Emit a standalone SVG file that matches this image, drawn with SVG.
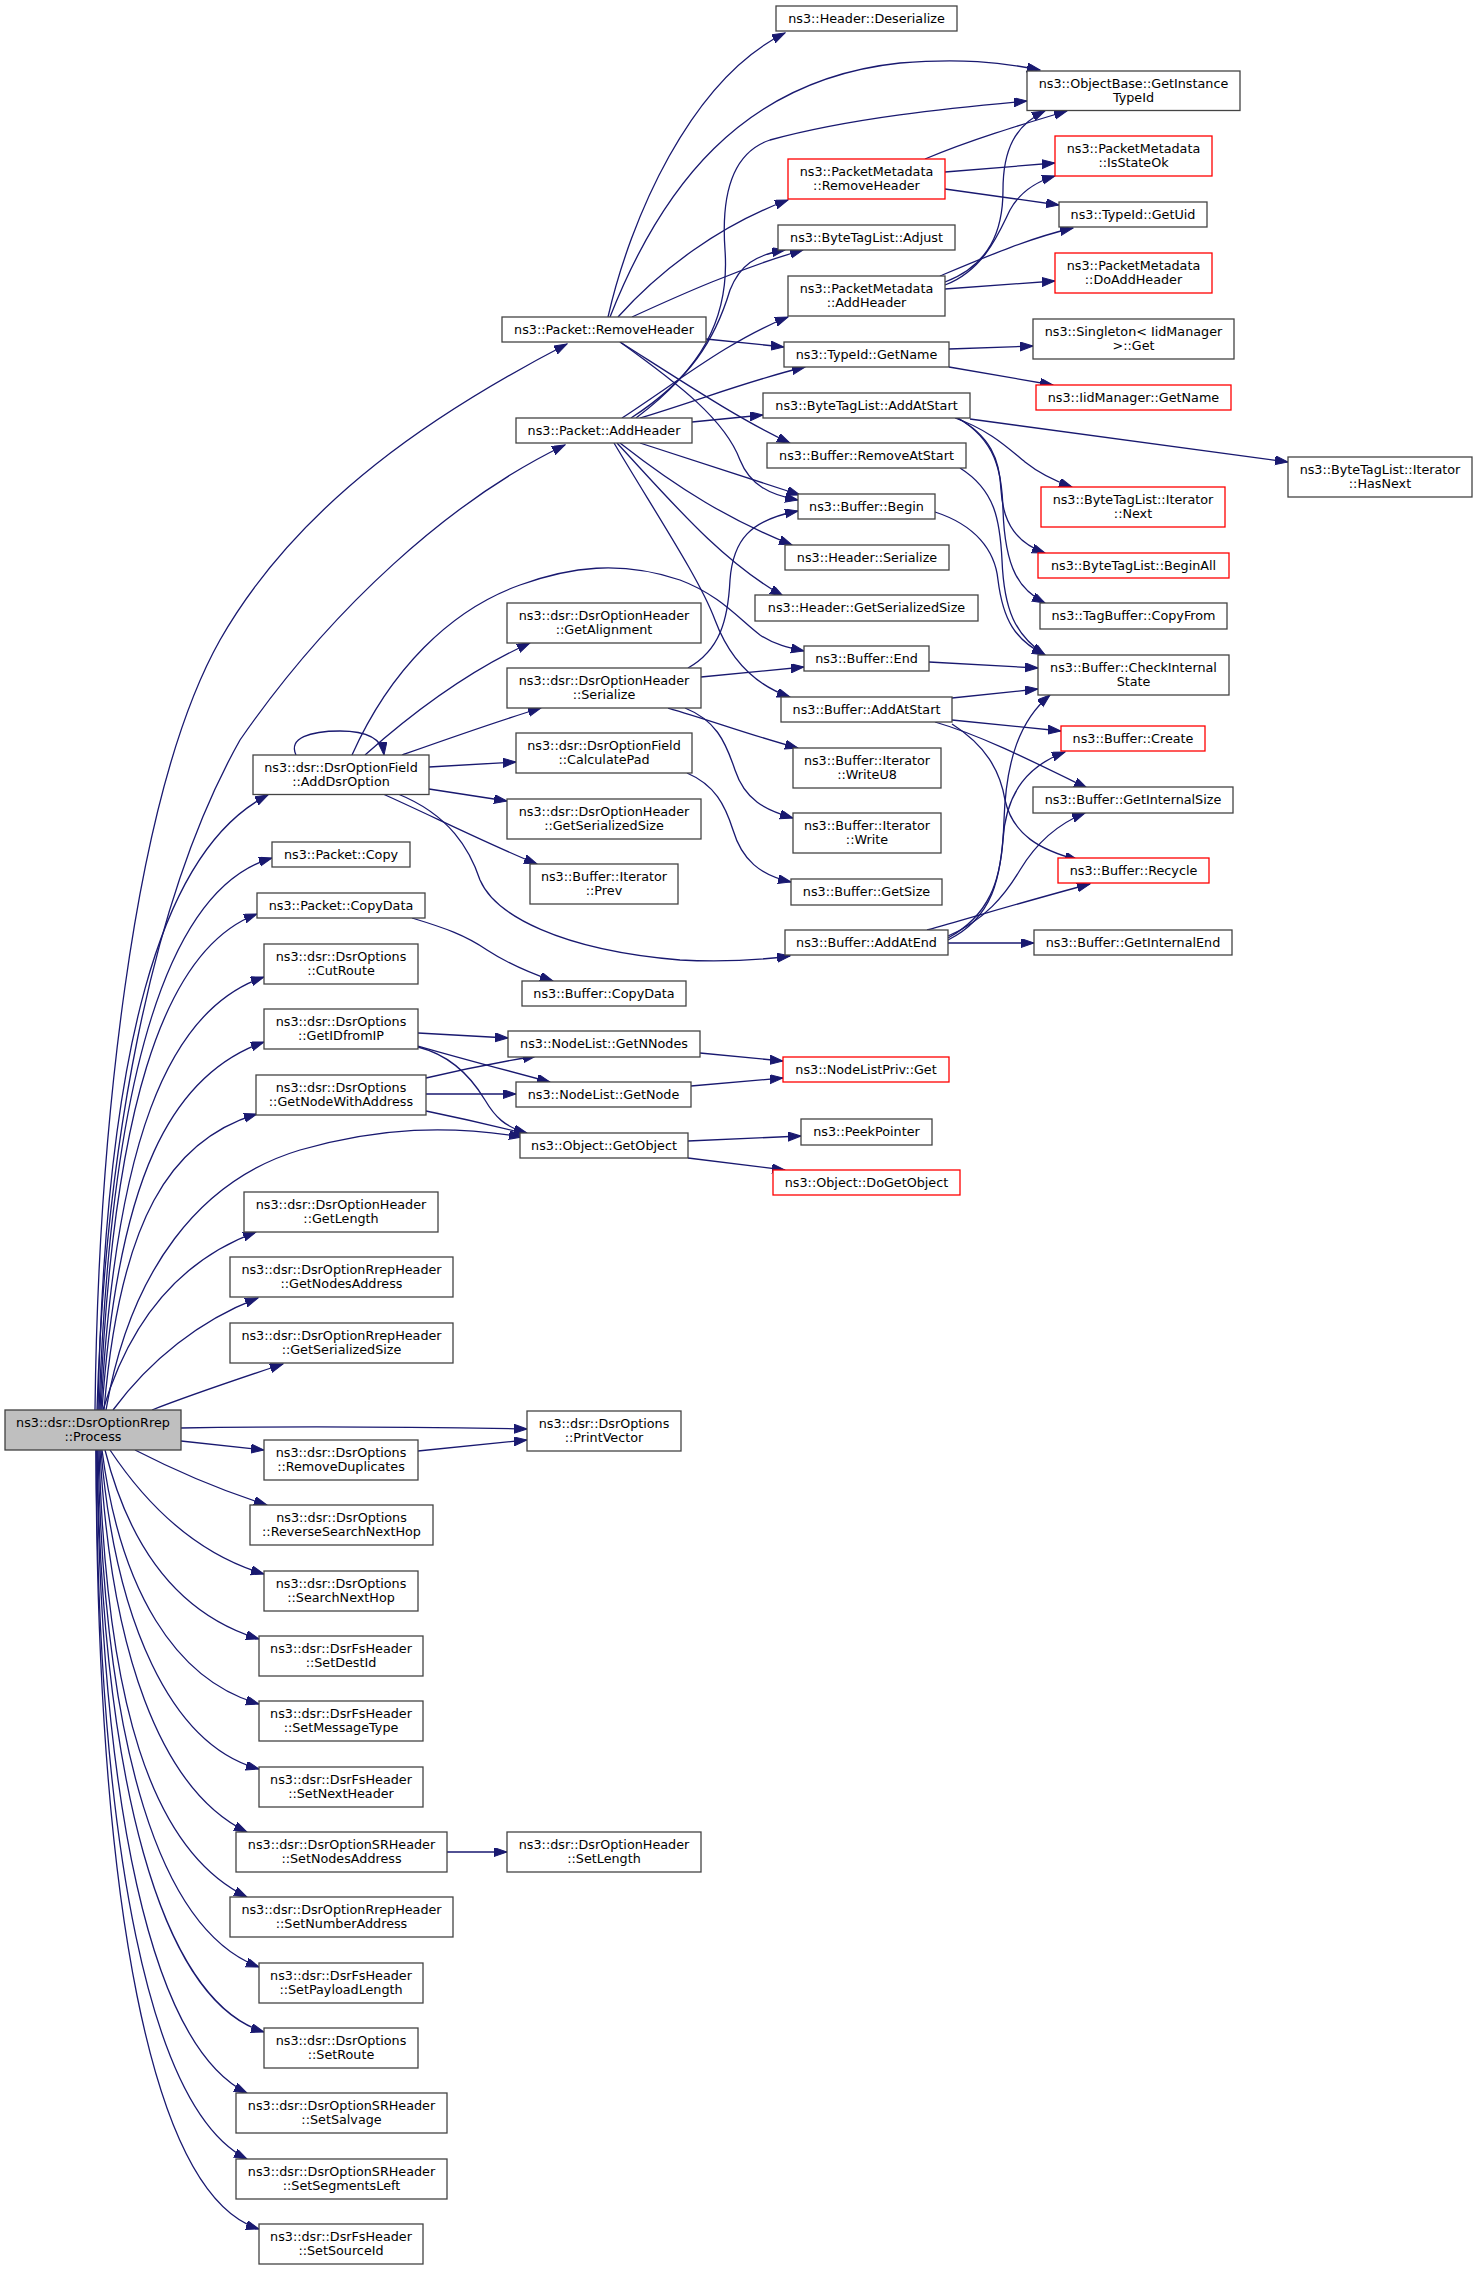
<svg xmlns="http://www.w3.org/2000/svg" width="1477" height="2269" viewBox="0 0 1477 2269">
<style>
.node rect{fill:#ffffff;stroke:#444444;stroke-width:1.3}
.node.red rect{stroke:#ff0000}
.node.root rect{fill:#bfbfbf;stroke:#404040}
.node text{font-family:"DejaVu Sans","Liberation Sans",sans-serif;font-size:12.75px;fill:#000000;text-anchor:middle}
#edges path{fill:none;stroke:#191970;stroke-width:1.3;marker-end:url(#arr)}
</style>
<defs>
<marker id="arr" markerWidth="14" markerHeight="10" refX="13" refY="4.5" orient="auto" markerUnits="userSpaceOnUse">
<path d="M0,0 L13,4.5 L0,9 z" fill="#191970" stroke="#191970" stroke-width="1"/>
</marker>
</defs>
<rect width="1477" height="2269" fill="#ffffff"/>
<g id="edges">
<!-- Process -->
<path d="M95,1410 C98,1150 130,800 220,640 C300,500 440,410 567,344"/>
<path d="M97,1410 C105,1150 150,900 240,740 C330,610 450,500 565,445"/>
<path d="M98,1410 C105,1050 160,850 268,795"/>
<path d="M99,1410 C110,1100 160,890 272,858"/>
<path d="M100,1410 C112,1120 160,950 257,914"/>
<path d="M101,1410 C115,1150 165,1010 264,977"/>
<path d="M102,1410 C118,1180 170,1075 264,1042"/>
<path d="M104,1410 C120,1220 170,1140 257,1114"/>
<path d="M106,1410 C130,1270 200,1180 300,1150 C380,1127 450,1125 522,1137"/>
<path d="M103,1410 C130,1320 180,1260 256,1232"/>
<path d="M113,1410 C150,1360 200,1320 258,1298"/>
<path d="M152,1410 C190,1395 235,1380 283,1364"/>
<path d="M181,1428 C300,1426 420,1427 527,1429"/>
<path d="M181,1441 L264,1450"/>
<path d="M135,1450 C170,1468 220,1490 267,1505"/>
<path d="M110,1450 C150,1510 200,1555 264,1574"/>
<path d="M105,1450 C130,1550 180,1615 259,1639"/>
<path d="M102,1450 C120,1590 175,1680 259,1704"/>
<path d="M101,1450 C115,1620 170,1745 259,1769"/>
<path d="M100,1450 C110,1650 160,1790 247,1832"/>
<path d="M99,1450 C106,1700 150,1850 247,1897"/>
<path d="M98,1450 C104,1750 160,1930 259,1967"/>
<path d="M97,1450 C102,1780 160,2000 264,2032"/>
<path d="M97,1450 C100,1800 150,2045 247,2093"/>
<path d="M96,1450 C98,1850 150,2110 247,2159"/>
<path d="M96,1450 C97,1900 150,2195 259,2229"/>
<path d="M418,1451 L527,1440"/>
<path d="M447,1852 L507,1852"/>
<!-- Packet::RemoveHeader -->
<path d="M608,317 C630,220 690,80 785,33"/>
<path d="M610,317 C660,190 740,80 900,63 C960,58 1000,62 1040,70"/>
<path d="M618,317 C660,270 720,225 788,200"/>
<path d="M632,317 C680,295 740,268 803,250"/>
<path d="M706,339 L784,347"/>
<path d="M620,342 C680,380 740,420 790,443"/>
<path d="M620,342 C680,385 725,420 740,460 C750,485 770,495 798,500"/>
<!-- Packet::AddHeader -->
<path d="M622,418 C680,380 730,340 788,317"/>
<path d="M631,418 C690,380 715,340 730,290 C740,265 755,255 785,250"/>
<path d="M636,418 C700,370 730,320 725,250 C720,180 740,150 770,140 C850,118 950,108 1027,101"/>
<path d="M640,418 C700,400 750,380 805,367"/>
<path d="M692,422 L763,415"/>
<path d="M640,443 L800,495"/>
<path d="M620,443 C680,490 730,520 792,545"/>
<path d="M617,443 C670,500 720,560 783,596"/>
<path d="M614,443 C660,520 700,580 715,620 C730,660 755,685 790,697"/>
<!-- PacketMetadata -->
<path d="M925,159 C970,140 1020,125 1067,111"/>
<path d="M945,172 L1055,163"/>
<path d="M945,189 L1059,205"/>
<path d="M945,282 C990,265 1003,230 1003,190 C1003,150 1015,125 1045,111"/>
<path d="M945,285 C985,270 1000,230 1010,210 C1020,192 1035,182 1055,176"/>
<path d="M940,276 C990,255 1030,238 1073,228"/>
<path d="M945,289 L1055,281"/>
<!-- TypeId::GetName -->
<path d="M949,349 L1033,346"/>
<path d="M949,367 L1053,385"/>
<!-- ByteTagList::AddAtStart -->
<path d="M970,419 L1288,462"/>
<path d="M955,418 C990,430 1010,450 1025,462 C1040,474 1055,481 1072,487"/>
<path d="M957,418 C990,435 1000,460 1001,490 C1003,525 1018,543 1045,553"/>
<path d="M958,418 C995,440 1002,470 1003,510 C1005,570 1020,590 1045,603"/>
<!-- CheckInternalState -->
<path d="M960,468 C995,490 1000,520 1002,560 C1004,610 1015,635 1045,655"/>
<path d="M935,512 C975,525 995,550 998,580 C1003,620 1015,640 1045,655"/>
<path d="M929,662 L1038,668"/>
<!-- Buffer::AddAtStart -->
<path d="M952,698 L1038,689"/>
<path d="M952,720 L1061,731"/>
<path d="M935,722 C980,735 1030,760 1087,788"/>
<path d="M952,724 C985,745 1000,770 1005,800 C1013,835 1040,850 1078,860"/>
<!-- Buffer::AddAtEnd -->
<path d="M948,943 L1034,943"/>
<path d="M927,930 C980,915 1030,900 1090,884"/>
<path d="M948,936 C985,920 1005,895 1020,870 C1035,845 1055,825 1085,813"/>
<path d="M948,938 C990,915 1000,880 1003,840 C1006,790 1030,765 1065,752"/>
<path d="M948,940 C992,918 1002,880 1004,820 C1006,760 1020,720 1050,695"/>
<!-- DsrOptionHeader::Serialize -->
<path d="M688,668 C720,650 728,620 730,580 C733,540 750,520 798,511"/>
<path d="M701,677 L804,667"/>
<path d="M668,708 C710,720 750,735 798,748"/>
<path d="M685,708 C715,720 725,740 735,770 C745,800 765,810 793,818"/>
<!-- AddDsrOption -->
<path d="M352,755 C390,670 450,610 520,585 C570,567 620,560 680,580 C720,595 740,620 760,635 C775,645 790,648 804,651"/>
<path d="M296,755 C288,738 310,731 340,731 C365,731 382,738 384,755"/>
<path d="M365,755 C410,715 470,670 530,643"/>
<path d="M402,755 C450,738 495,722 541,708"/>
<path d="M429,767 L516,762"/>
<path d="M429,789 L507,801"/>
<path d="M383,794 C430,815 490,845 537,864"/>
<path d="M398,794 C450,815 470,850 480,880 C495,915 560,950 680,960 C720,962 760,960 790,956"/>
<!-- CalculatePad -->
<path d="M687,773 C715,785 725,805 733,830 C742,860 760,875 791,882"/>
<!-- Packet::CopyData -->
<path d="M412,918 C445,928 465,935 487,950 C510,965 530,973 553,981"/>
<!-- GetIDfromIP / GetNodeWithAddress -->
<path d="M418,1033 L508,1038"/>
<path d="M418,1046 C460,1058 505,1070 550,1082"/>
<path d="M418,1047 C450,1055 470,1075 485,1100 C495,1117 505,1127 527,1133"/>
<path d="M426,1078 C460,1070 500,1062 536,1056"/>
<path d="M426,1094 L516,1094"/>
<path d="M426,1111 C460,1118 495,1126 527,1134"/>
<!-- NodeList / Object -->
<path d="M700,1053 L783,1061"/>
<path d="M691,1086 L783,1078"/>
<path d="M688,1141 L801,1136"/>
<path d="M688,1158 L785,1170"/>
</g>
<g id="n_process" class="node root"><rect x="5" y="1410" width="176" height="40"/><text x="93" y="1427">ns3::dsr::DsrOptionRrep</text><text x="93" y="1440.7">::Process</text></g>
<g id="n_pRemoveHeader" class="node"><rect x="502" y="317" width="204" height="25"/><text x="604" y="333.5">ns3::Packet::RemoveHeader</text></g>
<g id="n_pAddHeader" class="node"><rect x="516" y="418" width="176" height="25"/><text x="604" y="434.5">ns3::Packet::AddHeader</text></g>
<g id="n_addDsrOption" class="node"><rect x="253" y="755" width="176" height="39.5"/><text x="341" y="772">ns3::dsr::DsrOptionField</text><text x="341" y="785.7">::AddDsrOption</text></g>
<g id="n_copy" class="node"><rect x="272" y="842" width="138" height="25"/><text x="341" y="858.5">ns3::Packet::Copy</text></g>
<g id="n_pCopyData" class="node"><rect x="257" y="893" width="168" height="25"/><text x="341" y="909.5">ns3::Packet::CopyData</text></g>
<g id="n_cutRoute" class="node"><rect x="264" y="944" width="154" height="40"/><text x="341" y="961">ns3::dsr::DsrOptions</text><text x="341" y="974.7">::CutRoute</text></g>
<g id="n_getIDfromIP" class="node"><rect x="264" y="1009" width="154" height="40"/><text x="341" y="1026">ns3::dsr::DsrOptions</text><text x="341" y="1039.7">::GetIDfromIP</text></g>
<g id="n_getNodeWithAddress" class="node"><rect x="256" y="1075" width="170" height="40"/><text x="341" y="1092">ns3::dsr::DsrOptions</text><text x="341" y="1105.7">::GetNodeWithAddress</text></g>
<g id="n_getLength" class="node"><rect x="244" y="1192" width="194" height="40"/><text x="341" y="1209">ns3::dsr::DsrOptionHeader</text><text x="341" y="1222.7">::GetLength</text></g>
<g id="n_getNodesAddress" class="node"><rect x="230" y="1257" width="223" height="40"/><text x="341.5" y="1274">ns3::dsr::DsrOptionRrepHeader</text><text x="341.5" y="1287.7">::GetNodesAddress</text></g>
<g id="n_rrepGetSerializedSize" class="node"><rect x="230" y="1323" width="223" height="40"/><text x="341.5" y="1340">ns3::dsr::DsrOptionRrepHeader</text><text x="341.5" y="1353.7">::GetSerializedSize</text></g>
<g id="n_removeDuplicates" class="node"><rect x="264" y="1440" width="154" height="40"/><text x="341" y="1457">ns3::dsr::DsrOptions</text><text x="341" y="1470.7">::RemoveDuplicates</text></g>
<g id="n_reverseSearchNextHop" class="node"><rect x="250" y="1505" width="183" height="40"/><text x="341.5" y="1522">ns3::dsr::DsrOptions</text><text x="341.5" y="1535.7">::ReverseSearchNextHop</text></g>
<g id="n_searchNextHop" class="node"><rect x="264" y="1571" width="154" height="40"/><text x="341" y="1588">ns3::dsr::DsrOptions</text><text x="341" y="1601.7">::SearchNextHop</text></g>
<g id="n_setDestId" class="node"><rect x="259" y="1636" width="164" height="40"/><text x="341" y="1653">ns3::dsr::DsrFsHeader</text><text x="341" y="1666.7">::SetDestId</text></g>
<g id="n_setMessageType" class="node"><rect x="259" y="1701" width="164" height="40"/><text x="341" y="1718">ns3::dsr::DsrFsHeader</text><text x="341" y="1731.7">::SetMessageType</text></g>
<g id="n_setNextHeader" class="node"><rect x="259" y="1767" width="164" height="40"/><text x="341" y="1784">ns3::dsr::DsrFsHeader</text><text x="341" y="1797.7">::SetNextHeader</text></g>
<g id="n_setNodesAddress" class="node"><rect x="236" y="1832" width="211" height="40"/><text x="341.5" y="1849">ns3::dsr::DsrOptionSRHeader</text><text x="341.5" y="1862.7">::SetNodesAddress</text></g>
<g id="n_setNumberAddress" class="node"><rect x="230" y="1897" width="223" height="40"/><text x="341.5" y="1914">ns3::dsr::DsrOptionRrepHeader</text><text x="341.5" y="1927.7">::SetNumberAddress</text></g>
<g id="n_setPayloadLength" class="node"><rect x="259" y="1963" width="164" height="40"/><text x="341" y="1980">ns3::dsr::DsrFsHeader</text><text x="341" y="1993.7">::SetPayloadLength</text></g>
<g id="n_setRoute" class="node"><rect x="264" y="2028" width="154" height="40"/><text x="341" y="2045">ns3::dsr::DsrOptions</text><text x="341" y="2058.7">::SetRoute</text></g>
<g id="n_setSalvage" class="node"><rect x="236" y="2093" width="211" height="40"/><text x="341.5" y="2110">ns3::dsr::DsrOptionSRHeader</text><text x="341.5" y="2123.7">::SetSalvage</text></g>
<g id="n_setSegmentsLeft" class="node"><rect x="236" y="2159" width="211" height="40"/><text x="341.5" y="2176">ns3::dsr::DsrOptionSRHeader</text><text x="341.5" y="2189.7">::SetSegmentsLeft</text></g>
<g id="n_setSourceId" class="node"><rect x="259" y="2224" width="164" height="40"/><text x="341" y="2241">ns3::dsr::DsrFsHeader</text><text x="341" y="2254.7">::SetSourceId</text></g>
<g id="n_headerDeserialize" class="node"><rect x="776" y="6" width="181" height="25"/><text x="866.5" y="22.5">ns3::Header::Deserialize</text></g>
<g id="n_pmRemoveHeader" class="node red"><rect x="788" y="159" width="157" height="40"/><text x="866.5" y="176">ns3::PacketMetadata</text><text x="866.5" y="189.7">::RemoveHeader</text></g>
<g id="n_adjust" class="node"><rect x="778" y="225" width="177" height="25"/><text x="866.5" y="241.5">ns3::ByteTagList::Adjust</text></g>
<g id="n_pmAddHeader" class="node"><rect x="788" y="276" width="157" height="40"/><text x="866.5" y="293">ns3::PacketMetadata</text><text x="866.5" y="306.7">::AddHeader</text></g>
<g id="n_typeIdGetName" class="node"><rect x="784" y="342" width="165" height="25"/><text x="866.5" y="358.5">ns3::TypeId::GetName</text></g>
<g id="n_btlAddAtStart" class="node"><rect x="763" y="393" width="207" height="25"/><text x="866.5" y="409.5">ns3::ByteTagList::AddAtStart</text></g>
<g id="n_removeAtStart" class="node"><rect x="767" y="443" width="199" height="25"/><text x="866.5" y="459.5">ns3::Buffer::RemoveAtStart</text></g>
<g id="n_begin" class="node"><rect x="798" y="494" width="137" height="25"/><text x="866.5" y="510.5">ns3::Buffer::Begin</text></g>
<g id="n_headerSerialize" class="node"><rect x="785" y="545" width="164" height="25"/><text x="867" y="561.5">ns3::Header::Serialize</text></g>
<g id="n_headerGetSerializedSize" class="node"><rect x="755" y="595" width="223" height="26"/><text x="866.5" y="612">ns3::Header::GetSerializedSize</text></g>
<g id="n_getAlignment" class="node"><rect x="507" y="603" width="194" height="40"/><text x="604" y="620">ns3::dsr::DsrOptionHeader</text><text x="604" y="633.7">::GetAlignment</text></g>
<g id="n_end" class="node"><rect x="804" y="646" width="125" height="25"/><text x="866.5" y="662.5">ns3::Buffer::End</text></g>
<g id="n_dohSerialize" class="node"><rect x="507" y="668" width="194" height="40"/><text x="604" y="685">ns3::dsr::DsrOptionHeader</text><text x="604" y="698.7">::Serialize</text></g>
<g id="n_bufAddAtStart" class="node"><rect x="781" y="697" width="171" height="25"/><text x="866.5" y="713.5">ns3::Buffer::AddAtStart</text></g>
<g id="n_calculatePad" class="node"><rect x="516" y="733" width="176" height="40"/><text x="604" y="750">ns3::dsr::DsrOptionField</text><text x="604" y="763.7">::CalculatePad</text></g>
<g id="n_writeU8" class="node"><rect x="793" y="748" width="148" height="40"/><text x="867" y="765">ns3::Buffer::Iterator</text><text x="867" y="778.7">::WriteU8</text></g>
<g id="n_dohGetSerializedSize" class="node"><rect x="507" y="799" width="194" height="40"/><text x="604" y="816">ns3::dsr::DsrOptionHeader</text><text x="604" y="829.7">::GetSerializedSize</text></g>
<g id="n_write" class="node"><rect x="793" y="813" width="148" height="40"/><text x="867" y="830">ns3::Buffer::Iterator</text><text x="867" y="843.7">::Write</text></g>
<g id="n_prev" class="node"><rect x="530" y="864" width="148" height="40"/><text x="604" y="881">ns3::Buffer::Iterator</text><text x="604" y="894.7">::Prev</text></g>
<g id="n_getSize" class="node"><rect x="791" y="879" width="151" height="26"/><text x="866.5" y="896">ns3::Buffer::GetSize</text></g>
<g id="n_addAtEnd" class="node"><rect x="785" y="930" width="163" height="25"/><text x="866.5" y="946.5">ns3::Buffer::AddAtEnd</text></g>
<g id="n_bufCopyData" class="node"><rect x="522" y="981" width="164" height="25"/><text x="604" y="997.5">ns3::Buffer::CopyData</text></g>
<g id="n_getNNodes" class="node"><rect x="508" y="1031" width="192" height="26"/><text x="604" y="1048">ns3::NodeList::GetNNodes</text></g>
<g id="n_getNode" class="node"><rect x="516" y="1082" width="175" height="25"/><text x="603.5" y="1098.5">ns3::NodeList::GetNode</text></g>
<g id="n_getObject" class="node"><rect x="520" y="1133" width="168" height="25"/><text x="604" y="1149.5">ns3::Object::GetObject</text></g>
<g id="n_printVector" class="node"><rect x="527" y="1411" width="154" height="40"/><text x="604" y="1428">ns3::dsr::DsrOptions</text><text x="604" y="1441.7">::PrintVector</text></g>
<g id="n_setLength" class="node"><rect x="507" y="1832" width="194" height="40"/><text x="604" y="1849">ns3::dsr::DsrOptionHeader</text><text x="604" y="1862.7">::SetLength</text></g>
<g id="n_nodeListPrivGet" class="node red"><rect x="783" y="1057" width="166" height="25"/><text x="866" y="1073.5">ns3::NodeListPriv::Get</text></g>
<g id="n_peekPointer" class="node"><rect x="801" y="1119" width="131" height="26"/><text x="866.5" y="1136">ns3::PeekPointer</text></g>
<g id="n_doGetObject" class="node red"><rect x="773" y="1170" width="187" height="25"/><text x="866.5" y="1186.5">ns3::Object::DoGetObject</text></g>
<g id="n_getInstanceTypeId" class="node"><rect x="1027" y="71" width="213" height="39.5"/><text x="1133.5" y="88">ns3::ObjectBase::GetInstance</text><text x="1133.5" y="101.7">TypeId</text></g>
<g id="n_isStateOk" class="node red"><rect x="1055" y="136" width="157" height="40"/><text x="1133.5" y="153">ns3::PacketMetadata</text><text x="1133.5" y="166.7">::IsStateOk</text></g>
<g id="n_getUid" class="node"><rect x="1059" y="202" width="148" height="25"/><text x="1133" y="218.5">ns3::TypeId::GetUid</text></g>
<g id="n_doAddHeader" class="node red"><rect x="1055" y="253" width="157" height="40"/><text x="1133.5" y="270">ns3::PacketMetadata</text><text x="1133.5" y="283.7">::DoAddHeader</text></g>
<g id="n_singletonGet" class="node"><rect x="1033" y="319" width="201" height="40"/><text x="1133.5" y="336">ns3::Singleton&lt; IidManager</text><text x="1133.5" y="349.7">&gt;::Get</text></g>
<g id="n_iidManagerGetName" class="node red"><rect x="1036" y="385" width="195" height="25"/><text x="1133.5" y="401.5">ns3::IidManager::GetName</text></g>
<g id="n_iterNext" class="node red"><rect x="1041" y="487" width="184" height="40"/><text x="1133" y="504">ns3::ByteTagList::Iterator</text><text x="1133" y="517.7">::Next</text></g>
<g id="n_beginAll" class="node red"><rect x="1038" y="553" width="191" height="25"/><text x="1133.5" y="569.5">ns3::ByteTagList::BeginAll</text></g>
<g id="n_copyFrom" class="node"><rect x="1040" y="603" width="187" height="26"/><text x="1133.5" y="620">ns3::TagBuffer::CopyFrom</text></g>
<g id="n_checkInternalState" class="node"><rect x="1038" y="655" width="191" height="40"/><text x="1133.5" y="672">ns3::Buffer::CheckInternal</text><text x="1133.5" y="685.7">State</text></g>
<g id="n_create" class="node red"><rect x="1061" y="726" width="144" height="25"/><text x="1133" y="742.5">ns3::Buffer::Create</text></g>
<g id="n_getInternalSize" class="node"><rect x="1033" y="787" width="200" height="26"/><text x="1133" y="804">ns3::Buffer::GetInternalSize</text></g>
<g id="n_recycle" class="node red"><rect x="1058" y="858" width="151" height="25"/><text x="1133.5" y="874.5">ns3::Buffer::Recycle</text></g>
<g id="n_getInternalEnd" class="node"><rect x="1034" y="930" width="198" height="25"/><text x="1133" y="946.5">ns3::Buffer::GetInternalEnd</text></g>
<g id="n_hasNext" class="node"><rect x="1288" y="457" width="184" height="40"/><text x="1380" y="474">ns3::ByteTagList::Iterator</text><text x="1380" y="487.7">::HasNext</text></g>
</svg>
